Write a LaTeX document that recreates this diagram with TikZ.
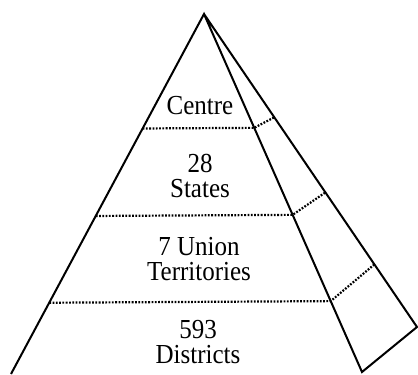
\documentclass[tikz,border=0pt]{standalone}
\usepackage{fontspec}
\setmainfont{Liberation Serif}
\usetikzlibrary{calc}

\begin{document}
\begin{tikzpicture}[x=1pt, y=-1pt]
        \useasboundingbox (0,0) rectangle (418,375);
        \tikzset{edge/.style={black, line width=2pt},
                 level/.style={black, line width=2.2pt, dash pattern=on 1.8pt off 1.5pt},
                 tier/.style={align=center, yscale=1.1, font=\fontsize{25}{23}\selectfont}}
        \coordinate (apex) at (204,14);
        \coordinate (left) at (11,374);
        \coordinate (front) at (362,372);
        \coordinate (back) at (417,327);
        % pyramid outline
        \draw[edge, line join=miter] (left) -- (apex) -- (front) -- (back) -- (apex);
        % levels
        \foreach \t/\s in {0.318/0.33, 0.561/0.57, 0.802/0.80}
            \draw[level] ($(apex)!\t!(left)$) -- ($(apex)!\t!(front)$) -- ($(apex)!\s!(back)$);
        \node[tier] (centre) at (200,106) {Centre};
        \node[tier] (states) at (200,176) {28\\States};
        \node[tier] (ut) at (199,259) {7 Union\\Territories};
        \node[tier] (districts) at (198,342) {593\\Districts};
    \end{tikzpicture}
\end{document}
